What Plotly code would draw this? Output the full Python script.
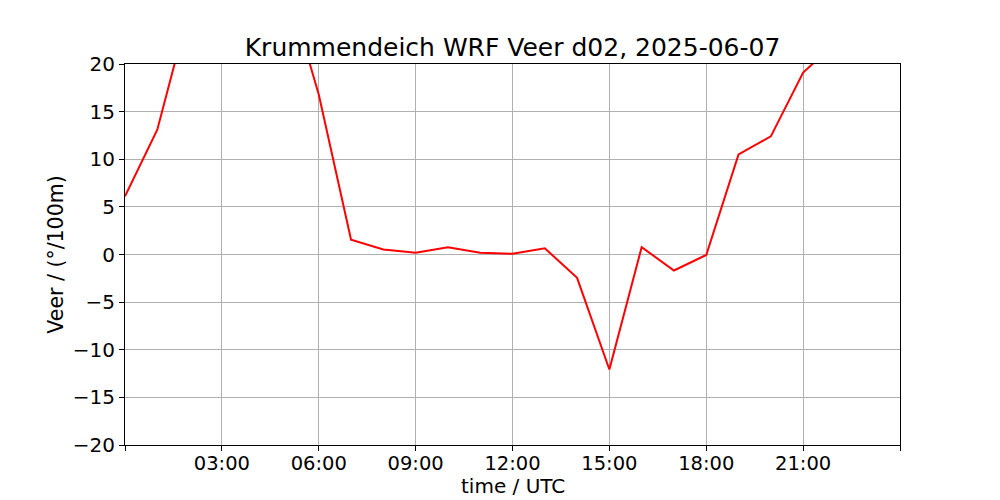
import plotly.graph_objects as go

hours = list(range(24))
veer = [6.1, 13.1, 26.0, 30.0, 31.0, 28.4, 16.8, 1.55, 0.52, 0.18, 0.77, 0.18, 0.07,
        0.66, -2.45, -12.07, 0.77, -1.68, -0.05, 10.5, 12.4, 19.1, 22.2, 24.0]
tick_hours = [0, 3, 6, 9, 12, 15, 18, 21, 24]
tick_labels = ["", "03:00", "06:00", "09:00", "12:00", "15:00", "18:00", "21:00", ""]
y_ticks = [-20, -15, -10, -5, 0, 5, 10, 15, 20]

font = "DejaVu Sans"
fig = go.Figure()
fig.add_trace(go.Scatter(x=hours, y=veer, mode="lines",
                         line=dict(color="red", width=2), showlegend=False))

axis_common = dict(showline=True, linecolor="black", linewidth=1, mirror=True,
                   ticks="outside", ticklen=5, tickwidth=1, tickcolor="black",
                   showgrid=True, gridcolor="#b0b0b0", gridwidth=1.1, zeroline=False,
                   automargin=False,
                   tickfont=dict(family=font, size=20, color="black"))
fig.update_xaxes(range=[0, 24], tickmode="array", tickvals=tick_hours, ticktext=tick_labels,
                 ticklabelstandoff=-4, **axis_common)
fig.update_xaxes(tickfont=dict(family=font, size=19.5, color="black"))
fig.update_yaxes(range=[-20, 20], tickmode="array", tickvals=y_ticks,
                 title=dict(text="Veer / (°/100m)", font=dict(family=font, size=20.5, color="black"),
                            standoff=3), **axis_common)
fig.add_annotation(text="time / UTC", xref="paper", yref="paper", x=0.5, y=0,
                   xanchor="center", yanchor="bottom", yshift=-55, showarrow=False,
                   font=dict(family=font, size=20, color="black"))
fig.update_layout(
    width=992, height=492,
    margin=dict(l=117, r=100, t=56, b=55),
    plot_bgcolor="white", paper_bgcolor="white",
    title=dict(text="Krummendeich WRF Veer d02, 2025-06-07", x=0.5086, xanchor="center",
               y=0.9207, yanchor="middle", font=dict(family=font, size=25, color="black")),
)
fig.write_html("out.html")
